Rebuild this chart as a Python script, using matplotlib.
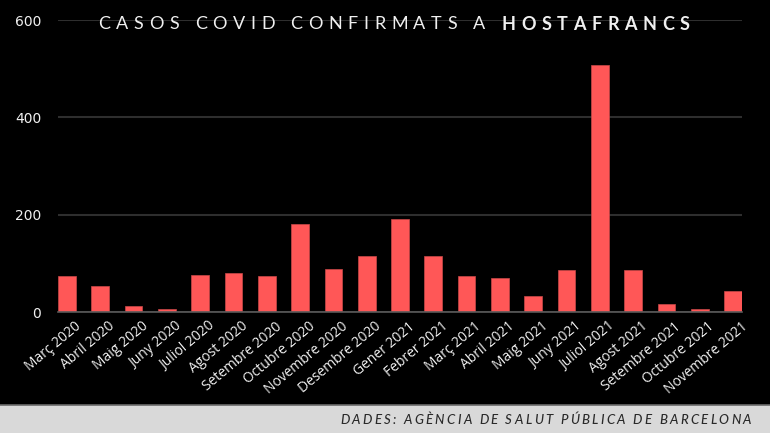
import matplotlib
matplotlib.use("Agg")
import matplotlib.pyplot as plt
from matplotlib.patches import Rectangle
from matplotlib.lines import Line2D
from matplotlib.transforms import ScaledTranslation

months = ['Març 2020', 'Abril 2020', 'Maig 2020', 'Juny 2020', 'Juliol 2020',
          'Agost 2020', 'Setembre 2020', 'Octubre 2020', 'Novembre 2020',
          'Desembre 2020', 'Gener 2021', 'Febrer 2021', 'Març 2021',
          'Abril 2021', 'Maig 2021', 'Juny 2021', 'Juliol 2021', 'Agost 2021',
          'Setembre 2021', 'Octubre 2021', 'Novembre 2021']
cases = [74, 54, 12, 7, 76, 80, 75, 180, 89, 115, 192, 116, 74, 69, 32, 87,
         508, 87, 16, 7, 43]
yticks = [0, 200, 400, 600]

title_light = "CASOS COVID CONFIRMATS A "
title_bold = "HOSTAFRANCS"
source = "DADES: AGÈNCIA DE SALUT PÚBLICA DE BARCELONA"

W, H = 770, 433
fig = plt.figure(figsize=(W / 100, H / 100), dpi=100, facecolor='black')

bw = 0.53
ax = fig.add_axes([58 / W, (H - 312) / H, (742 - 58) / W, (312 - 20) / H])
ax.set_facecolor('black')
x = list(range(len(months)))
ax.bar(x, cases, width=bw, color='#ff5757', edgecolor='#c94848', linewidth=0.5, zorder=3)
ax.set_xlim(-bw / 2, len(months) - 1 + bw / 2)
ax.set_ylim(0, 600)
ax.set_yticks(yticks)
ax.set_yticklabels([str(v) for v in yticks], color='#f0f0f0', fontsize=10,
                   fontfamily='DejaVu Sans')
ax.yaxis.grid(True, color='#2e2e2e', linewidth=1.5, zorder=0)
ax.set_axisbelow(True)
ax.tick_params(axis='y', length=0, pad=12)
ax.tick_params(axis='x', length=0, pad=5)
ax.set_xticks(x)
ax.set_xticklabels(months, rotation=40, ha='right', rotation_mode='anchor',
                   color='#f0f0f0', fontsize=10, fontfamily='Open Sans',
                   fontweight='medium')
shift = ScaledTranslation(8 / 100, 0, fig.dpi_scale_trans)
for lab in ax.get_xticklabels():
    lab.set_transform(lab.get_transform() + shift)
for s in ['top', 'right', 'left']:
    ax.spines[s].set_visible(False)
ax.spines['bottom'].set_color('#5a5a5a')
ax.spines['bottom'].set_linewidth(1.2)
ax.spines['bottom'].set_zorder(4)

# footer band
fig.patches.append(Rectangle((0, 0), 1, 28 / H, transform=fig.transFigure,
                             facecolor='#d9d9d9', edgecolor='none', zorder=0))
fig.lines.append(Line2D([0, 1], [28 / H, 28 / H], transform=fig.transFigure,
                        color='#6a6a6a', linewidth=1.2))

renderer = fig.canvas.get_renderer()


def tracked(segments, x0, x1, yc, color):
    chars = []
    for txt, props in segments:
        for ch in txt:
            if ch == ' ':
                t2 = fig.text(0, 0, 'a a', **props)
                t3 = fig.text(0, 0, 'aa', **props)
                w = t2.get_window_extent(renderer).width - t3.get_window_extent(renderer).width
                t2.remove(); t3.remove()
            else:
                t = fig.text(0, 0, ch, **props)
                w = t.get_window_extent(renderer).width
                t.remove()
            chars.append((ch, props, w))
    total = sum(c[2] for c in chars)
    track = (x1 - x0 - total) / (len(chars) - 1)
    pos = x0
    for ch, props, w in chars:
        if ch != ' ':
            fig.text(pos / W, 1 - yc / H, ch, va='center_baseline', ha='left',
                     color=color, zorder=5, **props)
        pos += w + track


tracked([(title_light, dict(fontsize=13, fontfamily='Lato', fontweight='normal')),
         (title_bold, dict(fontsize=13, fontfamily='Lato', fontweight='bold'))],
        98, 690, 22.5, '#f0f0f0')

tracked([(source, dict(fontsize=9.5, fontfamily='Lato', fontstyle='italic',
                       fontweight='medium'))],
        340, 751, 419, '#2a2a2a')

fig.savefig('out.png', dpi=100, facecolor='black')
